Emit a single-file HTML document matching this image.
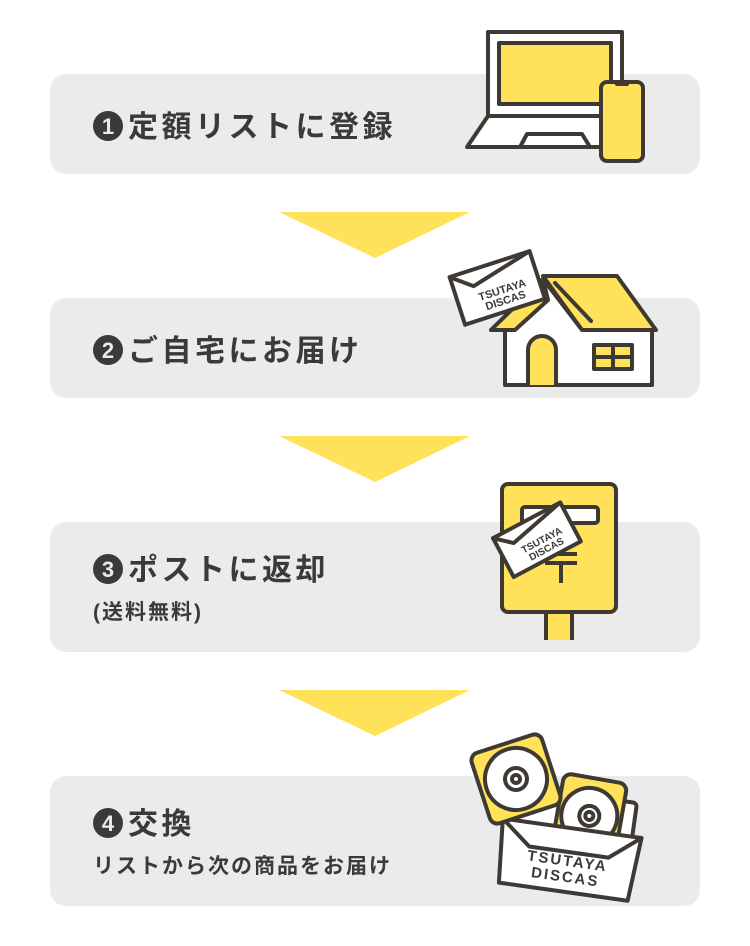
<!DOCTYPE html>
<html><head><meta charset="utf-8"><style>
html,body{margin:0;padding:0;background:#fff;width:750px;height:946px;overflow:hidden}
svg{display:block}
text{font-family:"Liberation Sans","Noto Sans CJK JP",sans-serif;fill:#3a3a3a}
.t{font-size:30px;font-weight:bold;letter-spacing:3.5px}
.s{font-size:21px;font-weight:bold;letter-spacing:2px}
.n{font-size:22px;font-weight:bold;fill:#ebebeb}
.k{stroke:#3e3a33;stroke-width:4;stroke-linejoin:round;stroke-linecap:round}
</style></head><body>
<svg width="750" height="946" viewBox="0 0 750 946">
<g fill="#ebebeb">
<rect x="50" y="74" width="650" height="100" rx="16"/>
<rect x="50" y="298" width="650" height="100" rx="16"/>
<rect x="50" y="522" width="650" height="130" rx="16"/>
<rect x="50" y="776" width="650" height="130" rx="16"/>
</g>
<g fill="#ffe15a">
<polygon points="279,212 470,212 375,258"/>
<polygon points="279,436 470,436 375,482"/>
<polygon points="279,690 470,690 375,736"/>
</g>
<circle cx="108" cy="126" r="15" fill="#3a3a3a"/><text class="n" x="108" y="134" text-anchor="middle">1</text>
<text class="t" x="128" y="137">定額リストに登録</text>
<circle cx="108" cy="350" r="15" fill="#3a3a3a"/><text class="n" x="108" y="358" text-anchor="middle">2</text>
<text class="t" x="128" y="361">ご自宅にお届け</text>
<circle cx="108" cy="569" r="15" fill="#3a3a3a"/><text class="n" x="108" y="577" text-anchor="middle">3</text>
<text class="t" x="128" y="580">ポストに返却</text>
<text class="s" x="93" y="619">(送料無料)</text>
<circle cx="108" cy="823" r="15" fill="#3a3a3a"/><text class="n" x="108" y="831" text-anchor="middle">4</text>
<text class="t" x="128" y="834">交換</text>
<text class="s" x="93" y="873">リストから次の商品をお届け</text>

<rect class="k" x="488" y="32" width="134" height="84" fill="#fff"/>
<rect class="k" x="499" y="43" width="112" height="61" fill="#ffe15a"/>
<polygon class="k" points="488,116 622,116 640,147 467,147" fill="#fff"/>
<polygon class="k" points="527,134 582,134 590,147 520,147" fill="#fff"/>
<rect class="k" x="601" y="82" width="42" height="79" rx="6" fill="#ffe15a"/>
<rect x="615" y="82" width="14" height="4" rx="2" fill="#3e3a33"/>

<polygon class="k" points="543,276 617,276 656,330 582,330" fill="#ffe15a"/>
<polygon class="k" points="543,279 491,330 505,330 505,385 652,385 652,330 582,330" fill="#fff"/>
<polygon class="k" points="543,279 491,330 515,330 548,300" fill="#ffe15a"/>
<line class="k" x1="555" y1="283" x2="591" y2="321"/>
<path class="k" d="M528,385 V350 a14,14 0 0 1 28,0 V385" fill="#ffe15a"/>
<rect class="k" x="594" y="345" width="38" height="24" fill="#ffe15a"/>
<line class="k" x1="613" y1="345" x2="613" y2="369"/><line class="k" x1="594" y1="357" x2="632" y2="357"/>
<g transform="translate(497,287) rotate(-18)">
<rect class="k" x="-42" y="-24" width="84" height="50" fill="#fff"/>
<polyline class="k" points="-42,-24 -22,-8 42,-24" fill="none"/>
<text x="4" y="8" font-size="11" font-weight="bold" text-anchor="middle">TSUTAYA</text>
<text x="4" y="19" font-size="11" font-weight="bold" text-anchor="middle">DISCAS</text>
</g>

<rect class="k" x="546" y="610" width="26" height="34" fill="#ffe15a"/>
<rect x="540" y="640" width="40" height="8" fill="#ebebeb"/>
<rect class="k" x="502" y="484" width="114" height="128" rx="6" fill="#ffe15a"/>
<rect class="k" x="522" y="507" width="76" height="16" rx="3" fill="#fff"/>
<rect x="545" y="552" width="32" height="4" fill="#3e3a33"/><rect x="545" y="561" width="32" height="4" fill="#3e3a33"/><rect x="559" y="561" width="4" height="22" fill="#3e3a33"/>
<g transform="translate(536,538) rotate(-28)">
<rect class="k" x="-38" y="-20" width="76" height="44" fill="#fff"/>
<polyline class="k" points="-38,-20 -22,-6 38,-20" fill="none"/>
<text x="4" y="8" font-size="10" font-weight="bold" text-anchor="middle">TSUTAYA</text>
<text x="4" y="18" font-size="10" font-weight="bold" text-anchor="middle">DISCAS</text>
</g>

<g transform="translate(570,834) rotate(8)">
<rect class="k" x="-62" y="-40" width="124" height="84" rx="4" fill="#fff"/>
</g>
<g transform="translate(590,812) rotate(10)">
<rect class="k" x="-32" y="-34" width="64" height="68" rx="8" fill="#ffe15a"/>
<circle class="k" cx="0" cy="4" r="28" fill="#fff"/><circle class="k" cx="0" cy="4" r="10" fill="#fff"/><circle class="k" cx="0" cy="4" r="4" fill="#fff"/>
</g>
<g transform="translate(568,858) rotate(8)">
<polygon class="k" points="-70,-30 70,-30 65,34 -65,34" fill="#fff"/>
<polyline class="k" points="-70,-30 -40,-6 40,-6 70,-30" fill="none"/>
<text x="0" y="8" font-size="15" font-weight="bold" text-anchor="middle" letter-spacing="2">TSUTAYA</text>
<text x="0" y="24" font-size="15" font-weight="bold" text-anchor="middle" letter-spacing="2">DISCAS</text>
</g>
<g transform="translate(516,779) rotate(-18)">
<rect class="k" x="-37" y="-37" width="74" height="74" rx="8" fill="#ffe15a"/>
<circle class="k" cx="0" cy="0" r="31" fill="#fff"/><circle class="k" cx="0" cy="0" r="11" fill="#fff"/><circle class="k" cx="0" cy="0" r="4" fill="#fff"/>
</g>
</svg>
</body></html>
